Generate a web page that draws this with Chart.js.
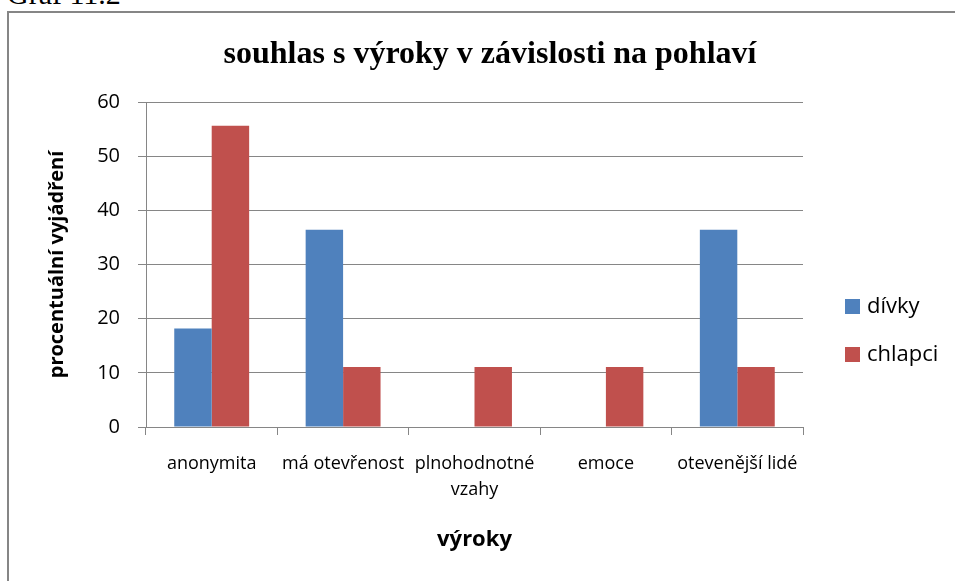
<!DOCTYPE html>
<html>
<head>
<meta charset="utf-8">
<script src="https://cdn.jsdelivr.net/npm/chart.js@4.4.1/dist/chart.umd.min.js"></script>
<style>
  html, body { margin: 0; padding: 0; background: #fff; overflow: hidden; }
  #wrap { position: relative; width: 955px; height: 581px; }
  #frame { position: absolute; left: 7px; top: 11px; width: 1000px; height: 700px; border-left: 2px solid #868686; border-top: 2px solid #868686; }
  #caption { position: absolute; left: 7px; top: -21px; font: 30px/30px "Liberation Serif", serif; color: #000; }
  canvas { position: absolute; left: 0; top: 0; }
</style>
</head>
<body>
<div id="wrap">
  <div id="frame"></div>
  <div id="caption">Graf 11.2</div>
  <canvas id="chart" width="955" height="581"></canvas>
</div>
<script>
// Chart data
var categories = ['anonymita', 'má otevřenost', ['plnohodnotné', 'vzahy'], 'emoce', 'otevenější lidé'];
var divky = [18.2, 36.4, 0, 0, 36.4];
var chlapci = [55.6, 11.1, 11.1, 11.1, 11.1];
var seriesNames = ['dívky', 'chlapci'];
var yMin = 0, yMax = 60, yStep = 10;

var gridColor = '#868686',
    textColor = '#000000',
    blue = '#4F81BD',
    red = '#C0504D';

// Plot box edges (pixels)
var padLeft = 25;
var plotLeft = 146, plotTop = 102, plotRight = 803, plotBottom = 427;

// Legend drawn at the right of the plot
var sideLegend = {
    id: 'sideLegend',
    afterDraw(chart) {
        var c = chart.ctx,
            area = chart.chartArea;
        c.save();
        c.font = '22px "Open Sans"';
        c.textBaseline = 'middle';
        c.textAlign = 'left';
        chart.data.datasets.forEach(function (ds, i) {
            var x = area.right + 42,
                y = 299 + i * 48;
            c.fillStyle = ds.backgroundColor;
            c.fillRect(x, y, 15, 15);
            c.fillStyle = textColor;
            c.fillText(ds.label, x + 22, y + 8);
        });
        c.restore();
    }
};

var chart = new Chart(document.getElementById('chart'), {
    type: 'bar',
    data: {
        labels: categories,
        datasets: [
            { label: seriesNames[0], data: divky, backgroundColor: blue, borderWidth: 0 },
            { label: seriesNames[1], data: chlapci, backgroundColor: red, borderWidth: 0 }
        ]
    },
    options: {
        responsive: false,
        animation: false,
        layout: {
            padding: { left: padLeft, right: 0, top: 0, bottom: 0 }
        },
        datasets: {
            bar: { categoryPercentage: 0.57, barPercentage: 1.0 }
        },
        scales: {
            x: {
                offset: true,
                grid: {
                    offset: true,
                    drawOnChartArea: false,
                    drawTicks: true,
                    tickLength: 8,
                    color: gridColor
                },
                border: { display: true, color: gridColor, width: 1 },
                ticks: {
                    color: textColor,
                    padding: 16,
                    maxRotation: 0,
                    autoSkip: false,
                    font: { family: 'Open Sans', size: 18, lineHeight: 1.45 }
                },
                title: {
                    display: true,
                    text: 'výroky',
                    color: textColor,
                    font: { family: 'Open Sans', size: 22, weight: 'bold' },
                    padding: { top: 0, bottom: 28 }
                },
                afterFit: function (scale) {
                    scale.height = 581 - plotBottom;
                }
            },
            y: {
                min: yMin,
                max: yMax,
                ticks: {
                    stepSize: yStep,
                    color: textColor,
                    padding: 18,
                    font: { family: 'Open Sans', size: 20 }
                },
                grid: {
                    color: gridColor,
                    tickLength: 8,
                    drawTicks: true
                },
                border: { display: true, color: gridColor, width: 1 },
                title: {
                    display: true,
                    text: 'procentuální vyjádření',
                    color: textColor,
                    font: { family: 'Open Sans', size: 20, weight: 'bold' },
                    padding: { top: 20, bottom: 0 }
                },
                afterFit: function (scale) {
                    scale.width = plotLeft - padLeft;
                }
            },
            // empty right-hand box that keeps room for the legend
            side: {
                position: 'right',
                grid: { display: false },
                border: { display: false },
                ticks: { display: false },
                afterFit: function (scale) {
                    scale.width = 955 - plotRight;
                }
            }
        },
        plugins: {
            legend: { display: false },
            tooltip: { enabled: false },
            title: {
                display: true,
                text: 'souhlas s výroky v závislosti na pohlaví',
                color: textColor,
                font: { family: 'Liberation Serif', size: 32, weight: 'bold', lineHeight: 1.2 },
                padding: { top: 36, bottom: plotTop - 36 - 38.4 }
            }
        }
    },
    plugins: [sideLegend]
});
</script>
</body>
</html>
